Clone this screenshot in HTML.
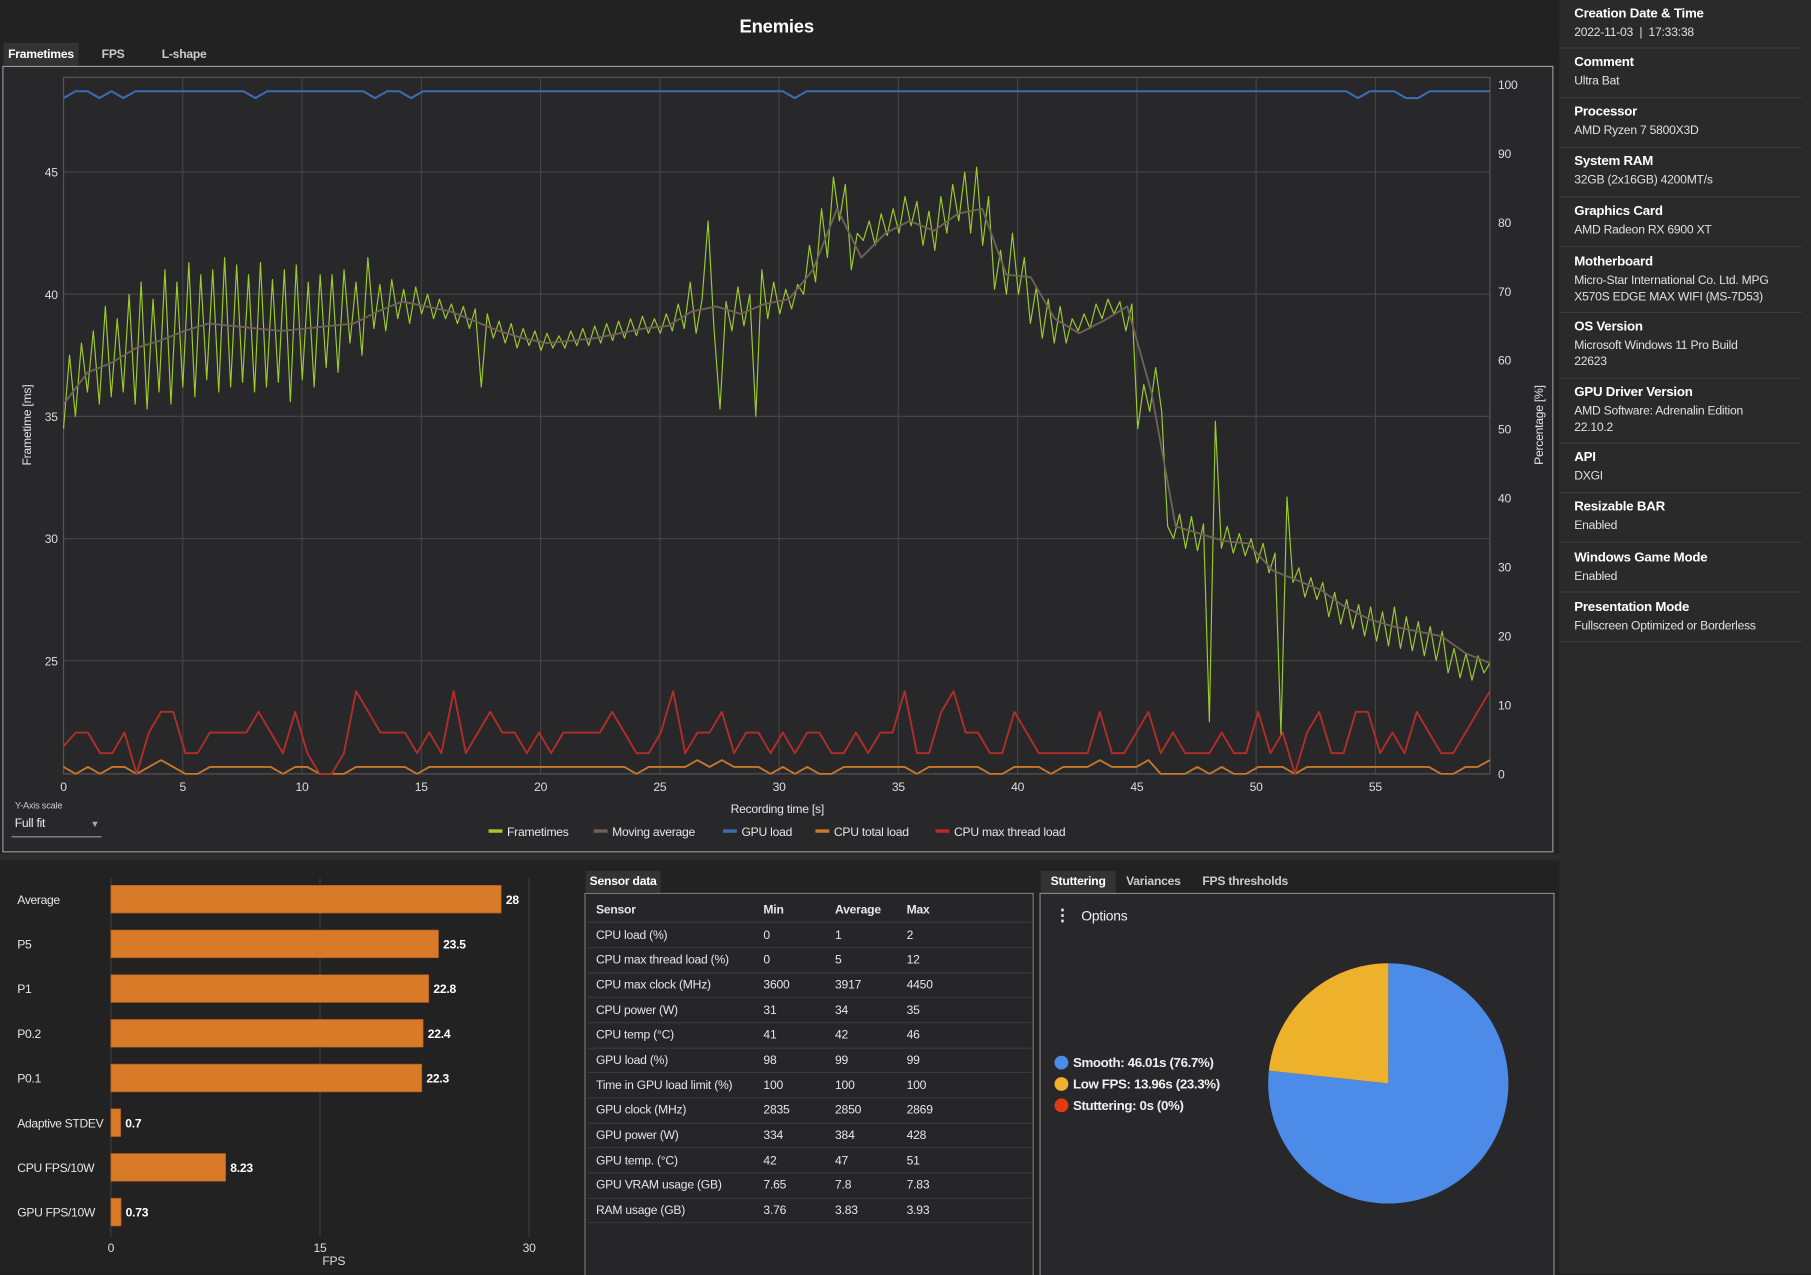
<!DOCTYPE html>
<html><head><meta charset="utf-8">
<style>
html,body{margin:0;padding:0;width:1811px;height:1274px;overflow:hidden;background:#202020;}
#root{position:absolute;left:0;top:0;width:1568px;height:1103px;transform:scale(1.15497,1.15503);transform-origin:0 0;background:#222222;font-family:"Liberation Sans",sans-serif;color:#e6e6e6;font-size:10.5px;letter-spacing:-0.2px;}
.abs{position:absolute;}
.side{position:absolute;left:1350px;top:0;width:218px;height:1103px;background:#2a2a2a;}
.item{position:absolute;left:0;width:210px;border-bottom:1px solid #3c3c3c;}
.item b{position:absolute;left:13px;font-size:11.5px;color:#fff;}
.item span{position:absolute;display:block;left:13px;width:192px;font-size:10.5px;color:#e0e0e0;line-height:14px;}
.item span.narrow{width:166px;}
table{border-collapse:collapse;}
tr{height:21.7px;}
td{box-sizing:border-box;height:21.7px;border-bottom:1px solid #3a3a3a;padding:0;font-size:10.5px;line-height:12px;color:#e6e6e6;}
</style></head><body>
<div id="root">
<div class="abs" style="left:0;width:1345px;top:15px;text-align:center;font-size:16px;font-weight:bold;color:#fff;">Enemies</div>
<div class="abs" style="left:3px;top:37px;width:65px;height:20px;background:#333;color:#fff;line-height:20px;text-align:center;font-weight:bold;">Frametimes</div>
<div class="abs" style="left:88px;top:37px;height:20px;line-height:20px;color:#ccc;font-weight:bold;">FPS</div>
<div class="abs" style="left:140px;top:37px;height:20px;line-height:20px;color:#ccc;font-weight:bold;">L-shape</div>
<div class="abs" style="left:2px;top:57px;width:1341px;height:679px;border:1px solid #9a9a9a;background:#28282a;"></div>
<svg class="abs" id="chart" style="left:0;top:0" width="1350" height="740"></svg>
<div class="abs" style="left:13px;top:693px;font-size:8px;color:#ccc;">Y-Axis scale</div>
<div class="abs" style="left:10px;top:707px;width:78px;height:17px;border-bottom:1px solid #999;color:#eee;">&nbsp;Full fit<span style="position:absolute;right:2px;top:2px;font-size:8px;color:#aaa;">▼</span></div>
<div class="abs" style="left:0;top:739px;width:1350px;height:6px;background:#2b2b2b;"></div>

<svg class="abs" id="bars" style="left:0;top:745px" width="500" height="358"></svg>

<div class="abs" style="left:507px;top:754px;width:65px;height:19px;background:#333;font-weight:bold;line-height:19px;text-align:center;color:#fff;">Sensor data</div>
<div class="abs" style="left:506px;top:773px;width:387px;height:330px;border:1px solid #777;border-bottom:none;background:#262628;">
<table style="position:absolute;left:2px;top:3px;width:384px;">
<tr><td style="padding-left:7px;width:152px;font-weight:bold">Sensor</td><td style="width:62px;font-weight:bold">Min</td><td style="width:62px;font-weight:bold">Average</td><td style="font-weight:bold">Max</td></tr>
<tr><td style="padding-left:7px">CPU load (%)</td><td>0</td><td>1</td><td>2</td></tr>
<tr><td style="padding-left:7px">CPU max thread load (%)</td><td>0</td><td>5</td><td>12</td></tr>
<tr><td style="padding-left:7px">CPU max clock (MHz)</td><td>3600</td><td>3917</td><td>4450</td></tr>
<tr><td style="padding-left:7px">CPU power (W)</td><td>31</td><td>34</td><td>35</td></tr>
<tr><td style="padding-left:7px">CPU temp (°C)</td><td>41</td><td>42</td><td>46</td></tr>
<tr><td style="padding-left:7px">GPU load (%)</td><td>98</td><td>99</td><td>99</td></tr>
<tr><td style="padding-left:7px">Time in GPU load limit (%)</td><td>100</td><td>100</td><td>100</td></tr>
<tr><td style="padding-left:7px">GPU clock (MHz)</td><td>2835</td><td>2850</td><td>2869</td></tr>
<tr><td style="padding-left:7px">GPU power (W)</td><td>334</td><td>384</td><td>428</td></tr>
<tr><td style="padding-left:7px">GPU temp. (°C)</td><td>42</td><td>47</td><td>51</td></tr>
<tr><td style="padding-left:7px">GPU VRAM usage (GB)</td><td>7.65</td><td>7.8</td><td>7.83</td></tr>
<tr><td style="padding-left:7px">RAM usage (GB)</td><td>3.76</td><td>3.83</td><td>3.93</td></tr>
</table></div>

<div class="abs" style="left:901px;top:754px;width:65px;height:19px;background:#333;font-weight:bold;line-height:19px;text-align:center;color:#fff;">Stuttering</div>
<div class="abs" style="left:975px;top:754px;height:19px;line-height:19px;font-weight:bold;color:#ccc;">Variances</div>
<div class="abs" style="left:1041px;top:754px;height:19px;line-height:19px;font-weight:bold;color:#ccc;">FPS thresholds</div>
<div class="abs" style="left:900px;top:773px;width:444px;height:330px;border:1px solid #888;border-bottom:none;background:#28282a;"></div>
<div class="abs" style="left:913px;top:784px;font-size:12px;color:#eee;"><b style="font-size:14px;">⋮</b>&nbsp;&nbsp; Options</div>
<svg class="abs" id="pie" style="left:900px;top:773px" width="444" height="330"></svg>

<div class="side">
<div class="item" style="top:0;height:41px"><b style="top:6px">Creation Date &amp; Time</b><span style="top:21px">2022-11-03 &nbsp;| &nbsp;17:33:38</span></div>
<div class="item" style="top:42px;height:42px"><b style="top:6px">Comment</b><span style="top:21px">Ultra Bat</span></div>
<div class="item" style="top:85px;height:42px"><b style="top:6px">Processor</b><span style="top:21px">AMD Ryzen 7 5800X3D</span></div>
<div class="item" style="top:128px;height:42px"><b style="top:6px">System RAM</b><span style="top:21px">32GB (2x16GB) 4200MT/s</span></div>
<div class="item" style="top:171px;height:42px"><b style="top:6px">Graphics Card</b><span style="top:21px">AMD Radeon RX 6900 XT</span></div>
<div class="item" style="top:214px;height:56px"><b style="top:7px">Motherboard</b><span style="top:22px">Micro-Star International Co. Ltd. MPG X570S EDGE MAX WIFI (MS-7D53)</span></div>
<div class="item" style="top:271px;height:56px"><b style="top:6px">OS Version</b><span class="narrow" style="top:21px">Microsoft Windows 11 Pro Build<br>22623</span></div>
<div class="item" style="top:328px;height:55px"><b style="top:6px">GPU Driver Version</b><span class="narrow" style="top:21px">AMD Software: Adrenalin Edition<br>22.10.2</span></div>
<div class="item" style="top:384px;height:42px"><b style="top:6px">API</b><span style="top:21px">DXGI</span></div>
<div class="item" style="top:427px;height:42px"><b style="top:6px">Resizable BAR</b><span style="top:21px">Enabled</span></div>
<div class="item" style="top:470px;height:42px"><b style="top:7px">Windows Game Mode</b><span style="top:22px">Enabled</span></div>
<div class="item" style="top:513px;height:42px"><b style="top:7px">Presentation Mode</b><span style="top:22px">Fullscreen Optimized or Borderless</span></div>
</div>
</div>
<script>
const frametimes=[
34.5,37.5,35.0,38.0, 36.0,38.5,35.5,39.5, 35.8,39.0,36.0,40.0, 35.5,40.5,35.3,39.8, 36.0,41.0,35.5,40.5,
36.2,41.3,35.8,40.8, 36.5,41.0,36.0,41.5, 36.2,41.2,36.4,40.8, 36.0,41.3,36.2,40.6, 36.4,41.0,35.6,41.2,
36.5,40.5,36.2,40.8, 37.0,40.8,36.8,41.0, 38.0,40.5,37.5,41.5, 38.6,40.4,38.5,40.6, 39.0,40.2,38.8,40.3,
39.2,40.0,39.0,39.8, 39.0,39.6,38.8,39.5, 38.6,39.4,36.2,39.2, 38.2,38.9,38.0,38.8, 37.8,38.6,37.9,38.5,
37.7,38.4,37.8,38.3, 37.8,38.5,37.9,38.6, 37.9,38.7,38.0,38.8, 38.1,38.9,38.2,39.0, 38.3,39.1,38.4,39.0,
38.4,39.2,38.5,39.6, 38.6,40.5,38.4,39.8, 43.0,38.6,35.3,39.7, 38.5,40.3,38.7,40.0, 35.0,41.0,39.0,40.5,
39.2,40.2,39.4,40.4, 40.0,42.0,40.5,43.5, 41.5,44.8,43.0,44.5, 41.0,42.5,42.2,43.0, 42.0,43.3,42.4,43.5,
42.5,44.0,42.8,43.8, 42.0,43.4,41.8,44.0, 42.5,44.5,43.0,45.0, 42.5,45.2,42.0,44.0, 40.2,41.8,40.0,42.5,
40.0,41.5,38.8,40.3, 38.2,39.8,38.0,39.5, 38.0,39.0,38.5,39.2, 38.6,39.6,39.0,39.8, 39.2,39.7,38.5,39.6,
34.5,36.3,35.2,37.0, 35.2,30.5,30.0,31.0, 29.6,30.9,29.5,30.6, 22.5,34.8,29.6,30.5, 29.4,30.2,29.3,30.0,
29.0,29.8,28.6,29.4, 22.0,31.7,28.2,28.8, 27.6,28.4,27.5,28.2, 26.8,27.8,26.5,27.5, 26.3,27.3,26.0,27.2,
25.8,27.0,25.6,27.2, 25.5,26.8,25.4,26.6, 25.2,26.4,25.0,26.2, 24.5,25.5,24.3,25.3, 24.2,25.2,24.5,24.9];
const movingAverage=[35.5,36.8,37.2,37.8,38.1,38.5,38.8,38.7,38.6,38.5,38.6,38.7,38.8,39.3,39.7,39.5,39.3,38.9,38.5,38.2,
38.0,38.1,38.2,38.4,38.6,38.7,39.3,39.5,39.2,39.6,39.8,41.0,43.5,41.5,42.5,43.0,42.6,43.3,43.5,40.8,
40.7,39.0,38.4,38.9,39.5,36.0,30.5,30.2,29.9,29.8,28.7,28.3,27.9,27.2,26.7,26.4,26.2,26.0,25.3,24.9];
const gpuLoad=[98,99,99,98,99,98,99,99,99,99, 99,99,99,99,99,99,98,99,99,99, 99,99,99,99,99,99,98,99,99,98,
99,99,99,99,99,99,99,99,99,99, 99,99,99,99,99,99,99,99,99,99, 99,99,99,99,99,99,99,99,99,99,
99,98,99,99,99,99,99,99,99,99, 99,99,99,99,99,99,99,99,99,99, 99,99,99,99,99,99,99,99,99,99,
99,99,99,99,99,99,99,99,99,99, 99,99,99,99,99,99,99,99,98,99, 99,99,98,98,99,99,99,99,99,99];
const cpuMaxThread=[4,6,6,3,3,6,0,6,9,9,3,3,6,6,6,6,9,6,3,9,3,0,0,3,12,9,6,6,6,3,6,3,12,3,6,9,6,6,3,6,3,6,6,6,6,9,6,3,3,6,12,3,6,6,9,3,6,6,3,6,3,6,
6,3,3,6,3,6,6,12,3,3,9,12,6,6,3,3,9,6,3,3,3,3,3,9,3,3,6,9,3,6,3,3,3,6,3,3,9,3,6,0,6,9,3,3,9,9,3,6,3,9,6,3,3,6,9,12];
const cpuTotal=[1,0,1,0,1,1,0,1,2,1,0,0,1,1,1,1,1,1,0,1,1,0,0,0,1,1,1,1,1,0,1,1,1,1,1,1,1,1,1,1,1,1,1,1,1,1,1,0,1,1,1,1,2,1,2,1,1,1,0,1,0,1,
0,0,1,1,1,1,1,1,0,1,1,1,1,1,0,0,1,1,1,0,1,1,1,2,1,1,1,2,0,0,0,1,0,1,0,0,1,1,1,0,1,1,1,1,1,1,1,1,1,1,1,0,0,1,1,2];
const xTicks=[0,5,10,15,20,25,30,35,40,45,50,55];
const msTicks=[25,30,35,40,45];
const pctTicks=[0,10,20,30,40,50,60,70,80,90,100];
const DURATION=59.8;

const NS='http://www.w3.org/2000/svg';
function mk(parent,tag,attrs){const e=document.createElementNS(NS,tag);for(const k in attrs)e.setAttribute(k,attrs[k]);parent.appendChild(e);return e;}
const X0=55,X1=1290,YT=67,YB=670;
const xs=t=>X0+t*(X1-X0)/DURATION;
const yms=v=>149+(45-v)*21.15;
const ypc=p=>YB-p*(YB-73)/100;
const svg=document.getElementById('chart');
for(const t of xTicks){
  const l=mk(svg,'line',{x1:xs(t),x2:xs(t),y1:YT,y2:YB,stroke:'#444',"stroke-width":1});
  
  
  const tx=mk(svg,'text',{x:xs(t),y:685,fill:'#ddd','font-size':10.5,'text-anchor':'middle'});tx.textContent=t;
  
  
}
for(const v of msTicks){
  const l=mk(svg,'line',{x1:X0,x2:X1,y1:yms(v),y2:yms(v),stroke:'#444',"stroke-width":1});
  
  
  const tx=mk(svg,'text',{x:50,y:yms(v)+4,fill:'#ddd','font-size':10.5,'text-anchor':'end'});tx.textContent=v;
  
  
}
mk(svg,'line',{x1:X0,x2:X1,y1:YT,y2:YT,stroke:'#444'});
mk(svg,'rect',{x:X0,y:YT,width:X1-X0,height:YB-YT,fill:'none',stroke:'#555'});
for(const p of pctTicks){
  const tx=mk(svg,'text',{x:1297,y:ypc(p)+4,fill:'#ddd','font-size':10.5});tx.textContent=p;
  
  
}
function poly(vals,tfn,yfn,color,w,name){
  const pts=vals.map((v,i)=>xs(tfn(i)).toFixed(1)+','+yfn(v).toFixed(1)).join(' ');
  const p=mk(svg,'polyline',{points:pts,fill:'none',stroke:color,'stroke-width':w,'stroke-linejoin':'round'});
  
  
}
poly(cpuTotal,i=>i*DURATION/(cpuTotal.length-1),ypc,'#c7782c',1.6,'cpu-total-load-line');
poly(cpuMaxThread,i=>i*DURATION/(cpuMaxThread.length-1),ypc,'#b42e28',1.6,'cpu-max-thread-load-line');
poly(gpuLoad,i=>i*DURATION/(gpuLoad.length-1),ypc,'#3d6bb3',1.8,'gpu-load-line');
poly(frametimes,i=>i*DURATION/(frametimes.length-1),yms,'#9ccc2c',1,'frametimes-line');
poly(movingAverage,i=>i*DURATION/(movingAverage.length-1),yms,'#6e6258',1.6,'moving-average-line');
let t=mk(svg,'text',{x:673,y:704,fill:'#e6e6e6','font-size':10.5,'text-anchor':'middle'});t.textContent='Recording time [s]';


t=mk(svg,'text',{x:27,y:368,fill:'#e6e6e6','font-size':10.5,'text-anchor':'middle',transform:'rotate(-90 27 368)'});t.textContent='Frametime [ms]';


t=mk(svg,'text',{x:1336,y:368,fill:'#e6e6e6','font-size':10.5,'text-anchor':'middle',transform:'rotate(-90 1336 368)'});t.textContent='Percentage [%]';


const legendNames=['Frametimes','Moving average','GPU load','CPU total load','CPU max thread load'];
const legendColors=['#9ccc2c','#6e6258','#3d6bb3','#c7782c','#b42e28'];
const legendX=[423,514,626,706,810];
legendNames.forEach((n,i)=>{
  const g=mk(svg,'g',{});
  
  
  mk(g,'rect',{x:legendX[i],y:718,width:12,height:3,fill:legendColors[i]});
  const tx=mk(g,'text',{x:legendX[i]+16,y:724,fill:'#e6e6e6','font-size':10.5});tx.textContent=n;
});

const barLabels=['Average','P5','P1','P0.2','P0.1','Adaptive STDEV','CPU FPS/10W','GPU FPS/10W'];
const barValues=[28,23.5,22.8,22.4,22.3,0.7,8.23,0.73];
const barTicks=[0,15,30];
const bsvg=document.getElementById('bars');
const bx=v=>96+v*12.07;
for(const v of barTicks){
  const l=mk(bsvg,'line',{x1:bx(v),x2:bx(v),y1:15,y2:326,stroke:'#3c3c3c'});
  
  
  const tx=mk(bsvg,'text',{x:bx(v),y:339,fill:'#ddd','font-size':10.5,'text-anchor':'middle'});tx.textContent=v;
  
  
}
t=mk(bsvg,'text',{x:289,y:350,fill:'#ddd','font-size':10.5,'text-anchor':'middle'});t.textContent='FPS';


barLabels.forEach((n,i)=>{
  const cy=33.5+i*38.7;
  const tx=mk(bsvg,'text',{x:15,y:cy+4,fill:'#e6e6e6','font-size':10.5,'letter-spacing':-0.3});tx.textContent=n;
  
  
  const r=mk(bsvg,'rect',{x:bx(0),y:cy-12,width:bx(barValues[i])-bx(0),height:24,fill:'#d97a29',stroke:'#a85a1c','stroke-width':0.6});
  
  
  const vt=mk(bsvg,'text',{x:bx(barValues[i])+4,y:cy+4,fill:'#fff','font-size':10.5,'font-weight':'bold'});vt.textContent=barValues[i];
  
  
});

const pieLabels=['Smooth','Low FPS','Stuttering'];
const pieSeconds=['46.01s','13.96s','0s'];
const piePercents=[76.7,23.3,0];
const pieColors=['#4c8be8','#eeb12c','#e23b14'];
const psvg=document.getElementById('pie');
const cx=302,cy=165,R=104;
let ang=0;
piePercents.forEach((p,i)=>{
  if(p<=0)return;
  const a0=ang,a1=ang+p/100*2*Math.PI;ang=a1;
  const x0=cx+R*Math.sin(a0),y0=cy-R*Math.cos(a0),x1=cx+R*Math.sin(a1),y1=cy-R*Math.cos(a1);
  const s=mk(psvg,'path',{d:`M${cx},${cy} L${x0},${y0} A${R},${R} 0 ${a1-a0>Math.PI?1:0} 1 ${x1},${y1} Z`,fill:pieColors[i]});
  
  
});
pieLabels.forEach((n,i)=>{
  const g=mk(psvg,'g',{});
  
  
  const y=147+i*18.5;
  mk(g,'circle',{cx:19,cy:y,r:6,fill:pieColors[i]});
  const tx=mk(g,'text',{x:29,y:y+4,fill:'#f0f0f0','font-size':11.5,'font-weight':'bold','letter-spacing':-0.3});
  tx.textContent=n+':  '+pieSeconds[i]+' ('+piePercents[i]+'%)';
});
</script>
</body></html>
